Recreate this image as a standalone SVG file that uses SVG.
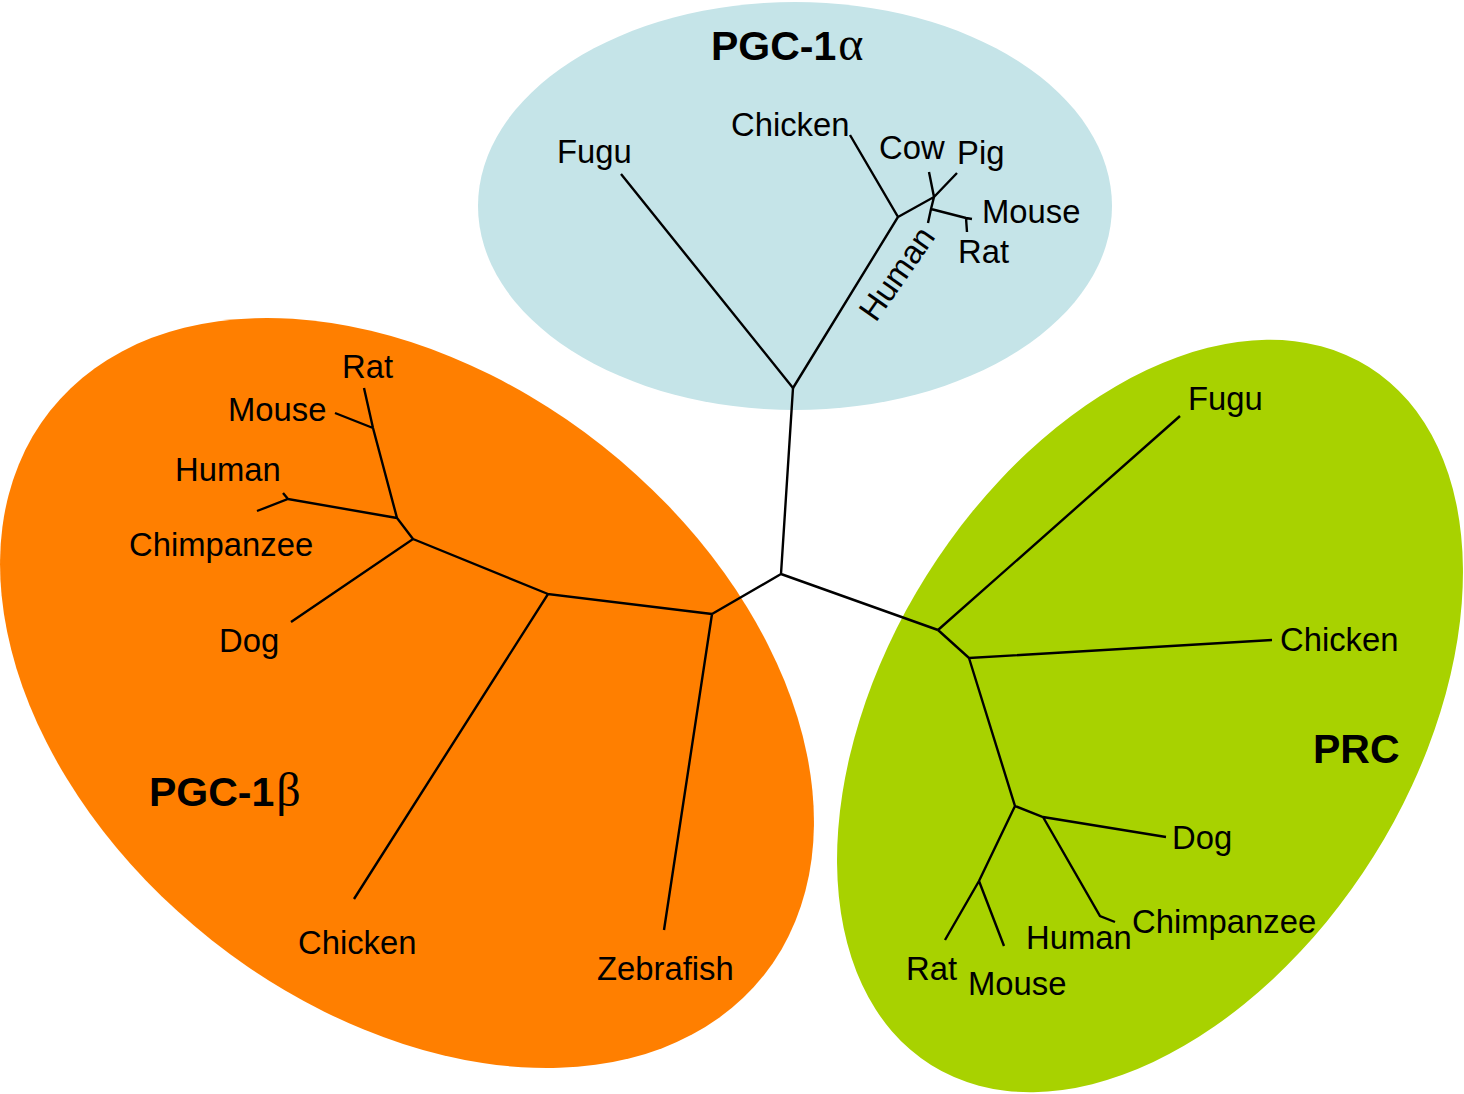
<svg xmlns="http://www.w3.org/2000/svg" width="1464" height="1094" viewBox="0 0 1464 1094">
<style>
 .lbl{font-family:"Liberation Sans",Arial,sans-serif;font-size:32.8px;fill:#000}
 .ttl{font-family:"Liberation Sans",Arial,sans-serif;font-size:41px;font-weight:bold;fill:#000}
 .gk{font-family:"Liberation Serif","DejaVu Serif",serif;font-weight:normal;font-size:48px}
 .br{fill:none;stroke:#000;stroke-width:2.4;stroke-linecap:butt;stroke-linejoin:miter}
</style>
<rect width="1464" height="1094" fill="#fff"/>
<g id="clusters">
 <ellipse id="cluster-pgc1a" cx="795" cy="206" rx="317" ry="204" fill="#c5e4e8"/>
 <ellipse id="cluster-pgc1b" cx="0" cy="0" rx="455" ry="315" transform="translate(407,693) rotate(38.3)" fill="#ff7f00"/>
 <ellipse id="cluster-prc" cx="0" cy="0" rx="412" ry="264" transform="translate(1150,716) rotate(-57.9)" fill="#a8d200"/>
</g>
<g id="connectors" class="br">
 <path d="M781,574 L793,388 M781,574 L712,614 M781,574 L938,630"/>
 <path d="M793,388 L621,174 M793,388 L898,217 L850,135 M898,217 L934,197 L929,172 M934,197 L957,173 M934,197 L931,209 L928,223 M931,209 L966,218 L972,219 M966,218 L967,232"/>
 <path d="M712,614 L664,930 M712,614 L548,594 L354,899 M548,594 L413,539 L291,622 M413,539 L397,518 L373,428 L364,388 M373,428 L335,413 M397,518 L288,499 L257,511 M288,499 L283,493"/>
 <path d="M938,630 L1180,416 M938,630 L969,658 L1272,640 M969,658 L1015,806 L1043,817 L1166,837 M1043,817 L1100,916 L1115,922 M1015,806 L979,881 L945,940 M979,881 L1004,946"/>
</g>
<g id="titles">
 <g id="title-pgc1a"><text class="ttl" x="711" y="60">PGC-1<tspan class="gk" dx="2">α</tspan></text></g>
 <g id="title-pgc1b"><text class="ttl" x="149" y="806">PGC-1<tspan class="gk" dx="2">β</tspan></text></g>
 <g id="title-prc"><text class="ttl" x="1313" y="763">PRC</text></g>
</g>
<g id="a-fugu"><text class="lbl" x="557" y="163">Fugu</text></g>
<g id="a-chicken"><text class="lbl" x="731" y="136">Chicken</text></g>
<g id="a-cow"><text class="lbl" x="879" y="159">Cow</text></g>
<g id="a-pig"><text class="lbl" x="957" y="164">Pig</text></g>
<g id="a-mouse"><text class="lbl" x="982" y="223">Mouse</text></g>
<g id="a-rat"><text class="lbl" x="958" y="263">Rat</text></g>
<g id="a-human"><text class="lbl" text-anchor="middle" transform="translate(906,280) rotate(-55)" x="0" y="0">Human</text></g>
<g id="b-rat"><text class="lbl" x="342" y="378">Rat</text></g>
<g id="b-mouse"><text class="lbl" x="228" y="421">Mouse</text></g>
<g id="b-human"><text class="lbl" x="175" y="481">Human</text></g>
<g id="b-chimpanzee"><text class="lbl" x="129" y="556">Chimpanzee</text></g>
<g id="b-dog"><text class="lbl" x="219" y="652">Dog</text></g>
<g id="b-chicken"><text class="lbl" x="298" y="954">Chicken</text></g>
<g id="b-zebrafish"><text class="lbl" x="597" y="980">Zebrafish</text></g>
<g id="p-fugu"><text class="lbl" x="1188" y="410">Fugu</text></g>
<g id="p-chicken"><text class="lbl" x="1280" y="651">Chicken</text></g>
<g id="p-dog"><text class="lbl" x="1172" y="849">Dog</text></g>
<g id="p-chimpanzee"><text class="lbl" x="1132" y="933">Chimpanzee</text></g>
<g id="p-human"><text class="lbl" x="1026" y="949">Human</text></g>
<g id="p-rat"><text class="lbl" x="906" y="980">Rat</text></g>
<g id="p-mouse"><text class="lbl" x="968" y="995">Mouse</text></g>
</svg>
